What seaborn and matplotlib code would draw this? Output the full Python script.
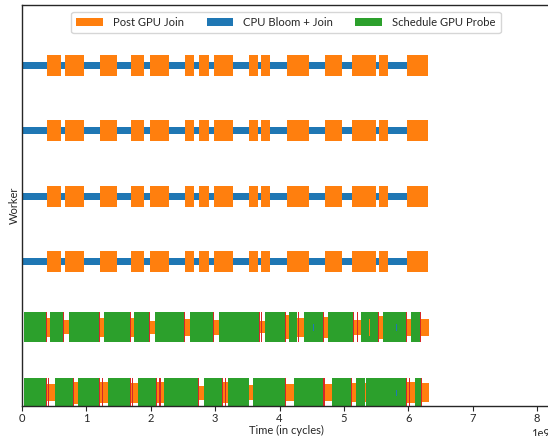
import matplotlib
matplotlib.use("Agg")
import matplotlib.pyplot as plt
from matplotlib.patches import Patch
import numpy as np
import seaborn as sns

# times are in units of 1e9 cycles
# CPU workers (2-5): Post GPU Join blocks on top of one long CPU Bloom + Join run
cpu_workers = [2, 3, 4, 5]
cpu_bloom_start = [0.0, 0.0, 0.0, 0.0]
cpu_bloom_end = [5.98, 5.98, 5.98, 5.98]
cpu_join_start = [0.388, 0.668, 1.211, 1.693, 1.988, 2.531, 2.748, 2.981,
                  3.525, 3.711, 4.115, 4.705, 5.124, 5.543, 5.978]
cpu_join_end = [0.598, 0.963, 1.483, 1.894, 2.283, 2.671, 2.904, 3.276,
                3.665, 3.851, 4.457, 4.969, 5.497, 5.683, 6.304]

# GPU worker 1
gpu1_start = [0.031, 0.435, 0.730, 1.273, 1.739, 2.065, 2.609, 3.059,
              3.773, 4.151, 4.379, 4.747, 5.264, 5.601, 6.040]
gpu1_end = [0.393, 0.657, 1.216, 1.697, 1.992, 2.536, 2.986, 3.700,
            4.099, 4.270, 4.694, 5.160, 5.548, 5.983, 6.200]
join1_start = [0.393, 0.657, 1.216, 1.697, 1.992, 2.536, 2.986, 3.700,
               4.099, 4.270, 4.694, 5.160, 5.548, 5.983, 6.200, 5.396]
join1_end = [0.435, 0.730, 1.273, 1.739, 2.065, 2.609, 3.059, 3.773,
             4.151, 4.379, 4.747, 5.264, 5.601, 6.040, 6.320, 5.412]
join1_size = [0.29, 0.21, 0.29, 0.29, 0.20, 0.27, 0.23, 0.18,
              0.37, 0.29, 0.31, 0.23, 0.35, 0.27, 0.26, 0.27]
bloom1_at = [4.523, 5.812]
probe1_at = [0.393, 0.657, 1.216, 1.697, 1.992, 2.536, 2.986, 3.700, 3.731,
             4.099, 4.301, 4.694, 5.160, 5.217, 5.548, 5.983, 6.200]

# GPU worker 0
gpu0_start = [0.031, 0.512, 0.870, 1.335, 1.801, 2.205, 2.826, 3.199,
              3.587, 4.224, 4.814, 5.186, 5.342, 6.102]
gpu0_end = [0.396, 0.811, 1.216, 1.700, 2.104, 2.756, 3.126, 3.529,
            4.099, 4.689, 5.124, 5.326, 5.978, 6.207]
join0_start = [0.396, 0.811, 1.216, 1.700, 2.104, 2.756, 3.126, 3.529,
               4.099, 4.689, 5.124, 5.326, 5.978, 6.207]
join0_end = [0.512, 0.870, 1.335, 1.801, 2.205, 2.826, 3.199, 3.587,
             4.224, 4.814, 5.186, 5.342, 6.102, 6.320]
join0_size = [0.26, 0.34, 0.32, 0.31, 0.32, 0.21, 0.32, 0.23,
              0.26, 0.26, 0.29, 0.29, 0.32, 0.29]
bloom0_at = [5.807]
probe0_at = [0.396, 0.424, 0.811, 1.216, 1.262, 1.700, 1.728, 2.104, 2.151,
             2.756, 3.126, 3.168, 4.099, 4.689, 4.713, 5.124, 5.978, 6.025, 6.207]

labels = ["Post GPU Join", "CPU Bloom + Join", "Schedule GPU Probe"]

sns.set_style("ticks")
plt.rcParams['font.family'] = ['Lato', 'DejaVu Sans']
plt.rcParams['font.size'] = 8

pal = sns.color_palette("tab10")
blue, orange, green, red = pal[0], pal[1], pal[2], pal[3]

fig = plt.figure(figsize=(5.48, 4.36), dpi=100)
ax = fig.add_axes([22 / 548, 30 / 436, 528 / 548, 401 / 436])

G = 1e9
tick = 0.016  # thin marker width

def bars(y, start, end, h, color):
    start = np.array(start) * G
    end = np.array(end) * G
    ax.barh(np.full(len(start), y), end - start, left=start, height=h,
            color=color, linewidth=0)

# GPU probe blocks first
bars(1, gpu1_start, gpu1_end, 0.46, green)
bars(0, gpu0_start, gpu0_end, 0.46, green)

# CPU bloom + join
for i, w in enumerate(cpu_workers):
    bars(w, [cpu_bloom_start[i]], [cpu_bloom_end[i]], 0.105, blue)
bars(1, bloom1_at, np.array(bloom1_at) + tick, 0.1, blue)
bars(0, bloom0_at, np.array(bloom0_at) + tick, 0.1, blue)

# post GPU join
for w in cpu_workers:
    bars(w, cpu_join_start, cpu_join_end, 0.32, orange)
bars(1, join1_start, join1_end, join1_size, orange)
bars(0, join0_start, join0_end, join0_size, orange)

# probe completion markers
bars(1, np.array(probe1_at) - tick, probe1_at, 0.46, red)
bars(0, np.array(probe0_at) - tick, probe0_at, 0.46, red)

ax.set_xlim(0, 8.2e9)
ax.set_ylim(-0.2, 5.92)
ax.set_yticks([])
ax.set_xlabel("Time (in cycles)", fontsize=8, labelpad=0.5)
ax.set_ylabel("Worker", fontsize=8, labelpad=1.5)
ax.tick_params(axis='x', labelsize=8, length=3.5, width=0.8, pad=1.5)
for s in ax.spines.values():
    s.set_linewidth(1.0)

handles = [Patch(color=orange, linewidth=0), Patch(color=blue, linewidth=0),
           Patch(color=green, linewidth=0)]
ax.legend(handles, labels, loc="upper center", ncol=3, fontsize=8.1,
          frameon=True, borderpad=0.45, handlelength=2.35, handletextpad=0.9,
          columnspacing=2.0, borderaxespad=0.6)

fig.savefig("out.png", dpi=100)
